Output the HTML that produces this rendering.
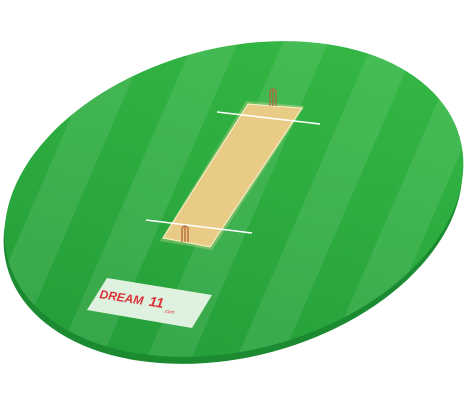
<!DOCTYPE html>
<html><head><style>
html,body{margin:0;padding:0;background:#fff;width:470px;height:408px;overflow:hidden}
</style></head><body>
<svg width="470" height="408" viewBox="0 0 470 408">
<defs>
<clipPath id="fc"><ellipse cx="234" cy="199" rx="234" ry="151" transform="rotate(-15 234 199)"/></clipPath>
<linearGradient id="g1" x1="0" y1="1" x2="1" y2="0">
<stop offset="0" stop-color="#229a38"/><stop offset="1" stop-color="#36bb46"/></linearGradient>
</defs>
<ellipse cx="233" cy="206" rx="234" ry="151" transform="rotate(-15 233 206)" fill="#1b8a31"/>
<ellipse cx="234" cy="199" rx="234" ry="151" transform="rotate(-15 234 199)" fill="url(#g1)"/>
<g clip-path="url(#fc)" fill="#ffffff" opacity="0.09">
<polygon points="-60,420 -15,420 175,-20 130,-20"/>
<polygon points="30,420 75,420 265,-20 220,-20"/>
<polygon points="120,420 165,420 355,-20 310,-20"/>
<polygon points="210,420 255,420 445,-20 400,-20"/>
<polygon points="300,420 345,420 535,-20 490,-20"/>
</g>
<polygon points="246,101 305,106 212,250 160,241" fill="#f5e0a0" opacity="0.3"/>
<polygon points="248,104 302,108 210,247 163,238" fill="#e8cb85" stroke="#fff3d0" stroke-width="1"/>
<line x1="217" y1="112" x2="320" y2="124" stroke="#fff" stroke-width="1.5"/>
<line x1="146" y1="220" x2="252" y2="233" stroke="#fff" stroke-width="1.5"/>
<g stroke="#b5653a" stroke-width="1.3" fill="none">
<path d="M270,106 V91 Q273,87 276,91 V106"/><line x1="273" y1="89" x2="273" y2="106"/></g>
<g stroke="#b5653a" stroke-width="1.3" fill="none">
<path d="M182,242 V228 Q185,224 188,228 V242"/><line x1="185" y1="226" x2="185" y2="242"/></g>
<g>
<polygon points="107,278 212,295 192,328 87,310" fill="#dff2df"/>
<g transform="rotate(9 150 303)">
<text x="99" y="306" font-family="Liberation Sans, sans-serif" font-size="12" font-weight="bold" font-style="italic" fill="#d9323a">DREAM</text>
<text x="149" y="306" font-family="Liberation Sans, sans-serif" font-size="14" font-weight="bold" font-style="italic" fill="#d9323a">11</text>
<text x="165" y="310" font-family="Liberation Sans, sans-serif" font-size="5" fill="#d9323a">.com</text>
</g>
</g>
</svg>
</body></html>
